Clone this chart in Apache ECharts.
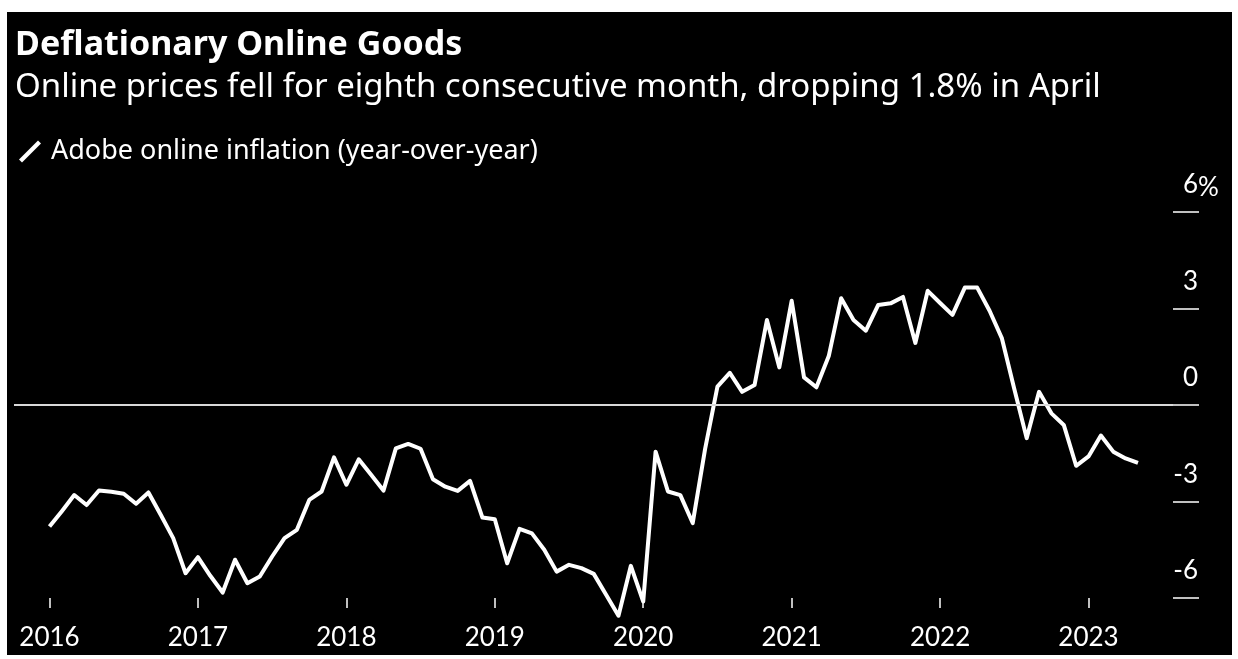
<!DOCTYPE html>
<html>
<head>
<meta charset="utf-8">
<script src="https://cdn.jsdelivr.net/npm/echarts@6/dist/echarts.min.js"></script>
<style>
  html, body { margin: 0; padding: 0; background: #fff; width: 1238px; height: 659px; overflow: hidden; }
  #chart { position: absolute; left: 7px; top: 12px; width: 1225px; height: 643px; }
</style>
</head>
<body>
<div id="chart"></div>
<script>
// Year labels on the x axis (one tick every January)
const years = ['2016', '2017', '2018', '2019', '2020', '2021', '2022', '2023'];

// Adobe Digital Price Index, online inflation y/y (%), monthly from Jan 2016
const inflation = [
  -3.78, -3.30, -2.80, -3.11, -2.66, -2.70, -2.76, -3.07, -2.72, -3.42, -4.14, -5.23,
  -4.73, -5.31, -5.83, -4.81, -5.54, -5.33, -4.71, -4.14, -3.88, -2.95, -2.69, -1.63,
  -2.48, -1.69, -2.17, -2.66, -1.35, -1.21, -1.36, -2.31, -2.54, -2.67, -2.36, -3.50,
  -3.55, -4.92, -3.85, -3.99, -4.50, -5.18, -4.97, -5.07, -5.25, -5.90, -6.55, -5.00,
  -6.11, -1.45, -2.69, -2.80, -3.67, -1.37, 0.57, 1.00, 0.41, 0.62, 2.64, 1.17,
  3.24, 0.86, 0.55, 1.52, 3.32, 2.64, 2.31, 3.11, 3.16, 3.36, 1.93, 3.55,
  3.17, 2.80, 3.65, 3.65, 2.93, 2.07, 0.50, -1.03, 0.41, -0.26, -0.62, -1.89,
  -1.60, -0.95, -1.45, -1.66, -1.80
];

// y-axis tick values
const yTicks = [-6, -3, 0, 3, 6];

const seriesName = 'Adobe online inflation (year-over-year)';
const yearTicks = years.map((y, k) => k * 12);
const headFont = '"Noto Sans", "Open Sans", sans-serif';
const axisFont = 'Lato, "Noto Sans", sans-serif';

const chart = echarts.init(document.getElementById('chart'), null, { renderer: 'canvas' });

chart.setOption({
  animation: false,
  backgroundColor: '#000',
  textStyle: { fontFamily: headFont },
  title: [
    {
      text: 'Deflationary Online Goods',
      left: 3, top: 11,
      textStyle: { color: '#fff', fontFamily: headFont, fontWeight: 'bold', fontSize: 34 }
    },
    {
      text: 'Online prices fell for eighth consecutive month, dropping 1.8% in April',
      left: 3, top: 54,
      textStyle: { color: '#fff', fontFamily: headFont, fontWeight: 'normal', fontSize: 33 }
    }
  ],
  legend: {
    left: 7, top: 121,
    icon: 'path://M0,19 L19,0 L22,3 L3,22 Z',
    itemWidth: 22, itemHeight: 22,
    textStyle: { color: '#fff', fontFamily: headFont, fontSize: 27, padding: [0, 0, 0, 5] },
    data: [seriesName]
  },
  grid: { left: 7, right: 59, top: 200, bottom: 57, containLabel: false },
  xAxis: {
    type: 'value',
    min: -2.87,
    max: 90.83,
    axisLine: { show: false, onZero: false },
    splitLine: { show: false },
    axisTick: {
      show: true, customValues: yearTicks, length: 10,
      lineStyle: { color: '#fff', width: 1.5 }
    },
    axisLabel: {
      customValues: yearTicks,
      formatter: v => years[Math.round(v / 12)],
      color: '#fff', fontFamily: axisFont, fontSize: 26, margin: 27
    }
  },
  yAxis: {
    type: 'value',
    position: 'right',
    min: yTicks[0],
    max: yTicks[yTicks.length - 1],
    interval: 3,
    name: '%',
    nameLocation: 'end',
    nameGap: 24,
    nameMoveOverlap: false,
    nameTextStyle: {
      color: '#fff', fontFamily: axisFont, fontSize: 26,
      align: 'left', verticalAlign: 'middle', padding: [0, 0, 0, 25]
    },
    axisLine: { show: false, onZero: false },
    splitLine: { show: false },
    axisTick: { show: true, length: 26, lineStyle: { color: '#fff', width: 1.5 } },
    axisLabel: {
      align: 'right',
      verticalAlign: 'bottom',
      margin: 25,
      lineHeight: 26,
      padding: [0, 0, 14, 0],
      color: '#fff', fontFamily: axisFont, fontSize: 26
    }
  },
  series: [{
    name: seriesName,
    type: 'line',
    data: inflation.map((v, i) => [i, v]),
    showSymbol: false,
    clip: false,
    itemStyle: { color: '#fff' },
    lineStyle: { color: '#fff', width: 4, join: 'round' },
    markLine: {
      silent: true,
      symbol: 'none',
      label: { show: false },
      lineStyle: { color: '#d9d9d9', width: 2, type: 'solid' },
      data: [{ yAxis: 0 }]
    },
    z: 3
  }]
});
</script>
</body>
</html>
